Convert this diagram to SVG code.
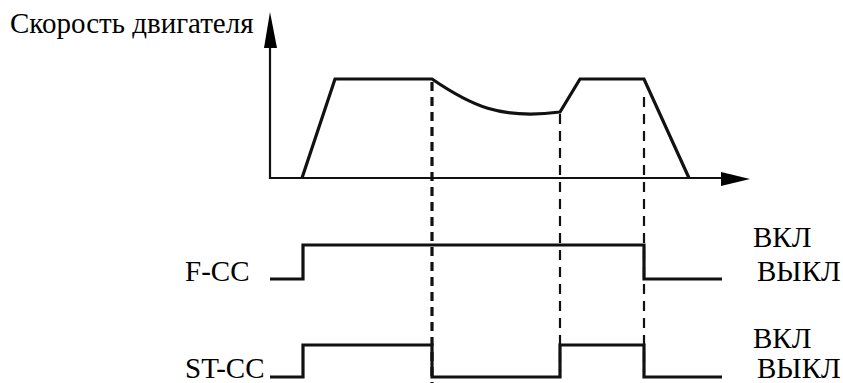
<svg xmlns="http://www.w3.org/2000/svg" width="843" height="383" viewBox="0 0 843 383">
<style>
.t{font-family:"Liberation Serif","Times New Roman",serif;font-size:29px;fill:#000}
.ax{stroke:#111;stroke-width:2.2;fill:none}
.sig{stroke:#111;stroke-width:3.2;fill:none;stroke-linejoin:miter}
.d1{stroke:#111;stroke-width:3.2;stroke-dasharray:9,6;fill:none}
.d2{stroke:#111;stroke-width:2.2;stroke-dasharray:10,7;fill:none}
</style>
<rect width="843" height="383" fill="#fff"/>
<g id="axes">
<polyline class="ax" points="270,47 270,178 724,178"/>
<polygon points="270,12 264,48 277,48" fill="#000"/>
<polygon points="750,179 721,172 721,186" fill="#000"/>
</g>
<g id="speed">
<path class="sig" d="M302,178 L335,79 L432,79 C470,105 500,120 560,112 L580,79 L644,79 L689,178"/>
</g>
<g id="connectors">
<line class="d1" x1="432" y1="82" x2="432" y2="383"/>
<line class="d2" x1="560" y1="114" x2="560" y2="372"/>
<line class="d2" x1="644" y1="97" x2="644" y2="372"/>
</g>
<g id="fcc">
<polyline class="sig" points="270,279 303,279 303,245 644,245 644,279 722,279"/>
</g>
<g id="stcc">
<polyline class="sig" points="270,377 303,377 303,345 432,345 432,377 560,377 560,345 644,345 644,377 722,377"/>
</g>
<g id="labels">
<text class="t" x="10" y="33">Скорость двигателя</text>
<text class="t" x="185" y="281">F-CC</text>
<text class="t" x="185" y="378">ST-CC</text>
<text class="t" x="753" y="247">ВКЛ</text>
<text class="t" x="757" y="281">ВЫКЛ</text>
<text class="t" x="753" y="348">ВКЛ</text>
<text class="t" x="757" y="378">ВЫКЛ</text>
</g>
</svg>
